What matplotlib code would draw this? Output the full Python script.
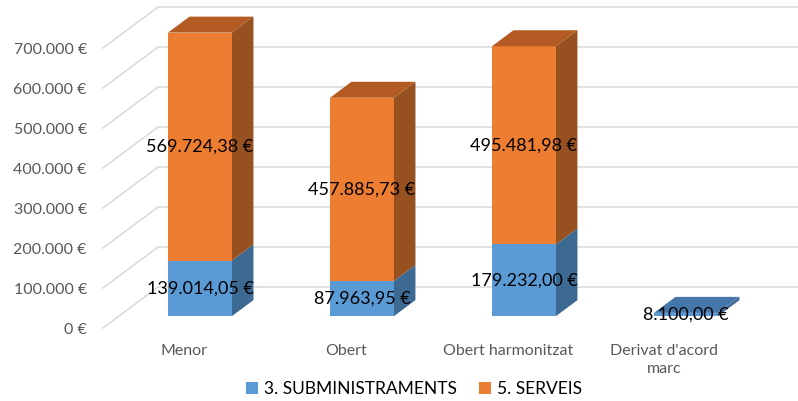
import numpy as np
import matplotlib.pyplot as plt
from matplotlib.patches import Polygon, Patch

categories = ["Menor", "Obert", "Obert harmonitzat", "Derivat d'acord\nmarc"]
subministraments = [139014.05, 87963.95, 179232.00, 8100.00]
serveis = [569724.38, 457885.73, 495481.98, 0.0]
y_ticks = [0, 100000, 200000, 300000, 400000, 500000, 600000, 700000]
series_names = ["3. SUBMINISTRAMENTS", "5. SERVEIS"]

plt.rcParams['font.family'] = ['Lato', 'DejaVu Sans']


def eur(v, dec=2):
    s = f"{v:,.{dec}f}".replace(",", "X").replace(".", ",").replace("X", ".")
    return s + " €"


# colours: front, side, top
blue = ("#5B9BD5", "#3D6A93", "#4677AA")
orange = ("#ED7D31", "#97501F", "#B35B22")

# oblique depth (category units / euros)
DX = 0.34
DY = 102500
F1, F2 = 0.29, 0.68
W = 0.395


def shift(x, y, f):
    return x + f * DX, y + f * DY


fig = plt.figure(figsize=(7.98, 4.01), dpi=100)
ax = fig.add_axes([0, 0, 1, 1])
ax.set_xlim(-184 / 162, (798 - 184) / 162)
ax.set_ylim((328 - 401) / 0.0004, 328 / 0.0004)
ax.axis("off")

# walls gridlines
for v in y_ticks:
    x1, y1 = shift(-0.5, v, 1)
    ax.plot([-0.5, x1, 4.5], [v, y1, y1], color="#D9D9D9", lw=1.1, zorder=1)
    ax.text(-0.6, v - 4000, eur(v, 0), ha="right", va="center",
            fontsize=11.5, color="#595959")


def draw_seg(i, bottom, height, cols, top_face):
    xc = i + F1 * DX
    y0 = bottom + F1 * DY
    ax.bar(xc, height, width=W, bottom=y0, color=cols[0], zorder=3)
    xl, xr = xc - W / 2, xc + W / 2
    y1 = y0 + height
    d = F2 - F1
    side = [(xr, y0), (xr, y1), shift(xr, y1, d), shift(xr, y0, d)]
    ax.add_patch(Polygon(side, closed=True, facecolor=cols[1], edgecolor="none", zorder=3))
    if top_face:
        top = [(xl, y1), (xr, y1), shift(xr, y1, d), shift(xl, y1, d)]
        ax.add_patch(Polygon(top, closed=True, facecolor=cols[2], edgecolor="none", zorder=3))


for i in range(len(categories)):
    s, o = subministraments[i], serveis[i]
    draw_seg(i, 0, s, blue, o == 0)
    if o > 0:
        draw_seg(i, s, o, orange, True)
    xc = i + F1 * DX
    ax.text(xc, s / 2 + F1 * DY, eur(s), ha="center", va="center",
            fontsize=13, color="black", zorder=5)
    if o > 0:
        ax.text(xc, s + o / 2 + F1 * DY, eur(o), ha="center", va="center",
                fontsize=13, color="black", zorder=5)
    xl = i - 0.035 if "\n" in categories[i] else i
    ax.text(xl, -40000, categories[i], ha="center", va="top", fontsize=11.5,
            color="#595959", linespacing=1.4)

handles = [Patch(facecolor=blue[0], label=series_names[0]),
           Patch(facecolor=orange[0], label=series_names[1])]
ax.legend(handles=handles, loc="center", bbox_to_anchor=(414 / 798, 1 - 389 / 401),
          ncol=2, frameon=False, fontsize=12.5, handlelength=0.7, handleheight=0.7,
          handletextpad=0.35, columnspacing=1.3)

fig.savefig("out.png", dpi=100)
